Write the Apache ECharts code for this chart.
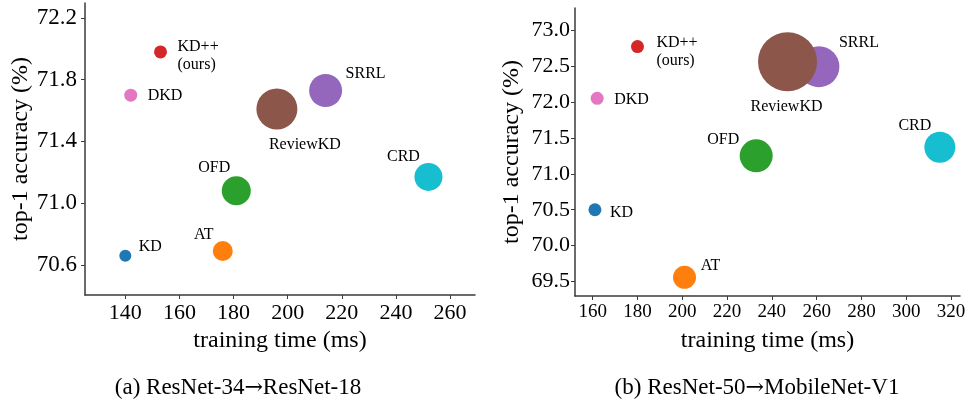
<!DOCTYPE html>
<html>
<head>
<meta charset="utf-8">
<script src="https://cdn.jsdelivr.net/npm/echarts@6/dist/echarts.min.js"></script>
<style>
html,body{margin:0;padding:0;background:#fff;}
#chart{width:970px;height:403px;}
</style>
</head>
<body>
<div id="chart"></div>
<script>
// ---- data ----
const methods = ['KD', 'AT', 'OFD', 'CRD', 'SRRL', 'ReviewKD', 'DKD', 'KD++'];
const pointLabels = ['KD', 'AT', 'OFD', 'CRD', 'SRRL', 'ReviewKD', 'DKD', 'KD++\n(ours)'];

// (a) ResNet-34 -> ResNet-18
const timeA = [140, 176, 181, 252, 214, 196, 142, 153];
const accA = [70.66, 70.69, 71.08, 71.17, 71.73, 71.61, 71.70, 71.98];
const sizeA = [12, 20, 29, 28, 33, 41, 13, 13];

// (b) ResNet-50 -> MobileNet-V1
const timeB = [161, 201, 233, 315, 261, 247, 162, 180];
const accB = [70.50, 69.56, 71.25, 71.37, 72.49, 72.56, 72.05, 72.77];
const sizeB = [13, 23, 33, 31, 41, 59, 13, 13];

const xTicksA = [140, 160, 180, 200, 220, 240, 260];
const yTicksA = [70.6, 71.0, 71.4, 71.8, 72.2];
const xTicksB = [160, 180, 200, 220, 240, 260, 280, 300, 320];
const yTicksB = [69.5, 70.0, 70.5, 71.0, 71.5, 72.0, 72.5, 73.0];

const captionA = ['(a) ResNet-34', 'ResNet-18'];
const captionB = ['(b) ResNet-50', 'MobileNet-V1'];
const arrow = '\u2192';
const xName = 'training time (ms)';
const yName = 'top-1 accuracy (%)';

// ---- styles ----
const colors = ['#1f77b4', '#ff7f0e', '#2ca02c', '#17becf', '#9467bd', '#8c564b', '#e377c2', '#d62728'];
// label placement: [align, dx, dy]
const labelPosA = [
  ['center', 25, -9], ['center', -19, -16], ['center', -22, -23], ['center', -25, -20],
  ['left', 20, -17], ['center', 28, 36], ['left', 17, 1], ['left', 17, 4]
];
const labelPosB = [
  ['left', 15, 3], ['center', 26, -12], ['center', -33, -16], ['center', -25, -21],
  ['center', 40, -24], ['center', -1, 45], ['left', 17, 2], ['left', 19, 5]
];

const FONT = 'Liberation Serif';
const AXC = '#3a3a3a';

function buildData(times, accs, sizes, pos) {
  return methods.map((m, i) => ({
    name: m,
    value: [times[i], accs[i]],
    symbolSize: sizes[i],
    itemStyle: { color: colors[i], opacity: 1 },
    label: {
      show: true,
      formatter: pointLabels[i],
      position: 'inside',
      align: pos[i][0],
      verticalAlign: 'middle',
      offset: [pos[i][1], pos[i][2]],
      color: '#000',
      fontFamily: FONT,
      fontSize: 16,
      lineHeight: 18
    }
  }));
}

function xAxisCfg(gridIndex, min, max, ticks, fontSize) {
  return {
    type: 'value', gridIndex, min, max,
    name: xName, nameLocation: 'middle', nameGap: 33,
    nameTextStyle: { fontFamily: FONT, fontSize: 24, color: '#000' },
    splitLine: { show: false },
    axisLine: { show: true, onZero: false, lineStyle: { color: AXC, width: 1.5 } },
    axisTick: { show: true, length: 4, customValues: ticks, lineStyle: { color: AXC, width: 1 } },
    axisLabel: { customValues: ticks, margin: 7, fontFamily: FONT, fontSize, color: '#000',
      formatter: v => String(Math.round(v)) }
  };
}
function yAxisCfg(gridIndex, min, max, ticks, fontSize, margin) {
  return {
    type: 'value', gridIndex, min, max,
    name: yName, nameLocation: 'middle', nameGap: 51,
    nameTextStyle: { fontFamily: FONT, fontSize: 24, color: '#000' },
    splitLine: { show: false },
    axisLine: { show: true, onZero: false, lineStyle: { color: AXC, width: 1.5 } },
    axisTick: { show: true, length: 4, customValues: ticks, lineStyle: { color: AXC, width: 1 } },
    axisLabel: { customValues: ticks, margin, fontFamily: FONT, fontSize, color: '#000',
      formatter: v => v.toFixed(1) }
  };
}

function caption(x, parts) {
  return {
    type: 'text', x, y: 388,
    style: {
      text: parts[0] + '{arr|' + arrow + '}' + parts[1],
      fontFamily: FONT, fontSize: 23, fill: '#000', align: 'center', verticalAlign: 'middle',
      rich: { arr: { fontFamily: 'DejaVu Serif', fontSize: 22, fill: '#000' } }
    }
  };
}

const chart = echarts.init(document.getElementById('chart'), null, { renderer: 'canvas' });
chart.setOption({
  animation: false,
  backgroundColor: '#fff',
  grid: [
    { left: 85, top: 3, width: 390, height: 292 },
    { left: 575, top: 8, width: 385, height: 288 }
  ],
  xAxis: [
    xAxisCfg(0, 125.1, 269.2, xTicksA, 22),
    xAxisCfg(1, 152.1, 324, xTicksB, 19)
  ],
  yAxis: [
    yAxisCfg(0, 70.405, 72.297, yTicksA, 23, 8),
    yAxisCfg(1, 69.3, 73.306, yTicksB, 22, 5)
  ],
  series: [
    { type: 'scatter', xAxisIndex: 0, yAxisIndex: 0, data: buildData(timeA, accA, sizeA, labelPosA),
      emphasis: { disabled: true } },
    { type: 'scatter', xAxisIndex: 1, yAxisIndex: 1, data: buildData(timeB, accB, sizeB, labelPosB),
      emphasis: { disabled: true } }
  ],
  graphic: [
    caption(238, captionA),
    caption(757, captionB)
  ]
});
</script>
</body>
</html>
